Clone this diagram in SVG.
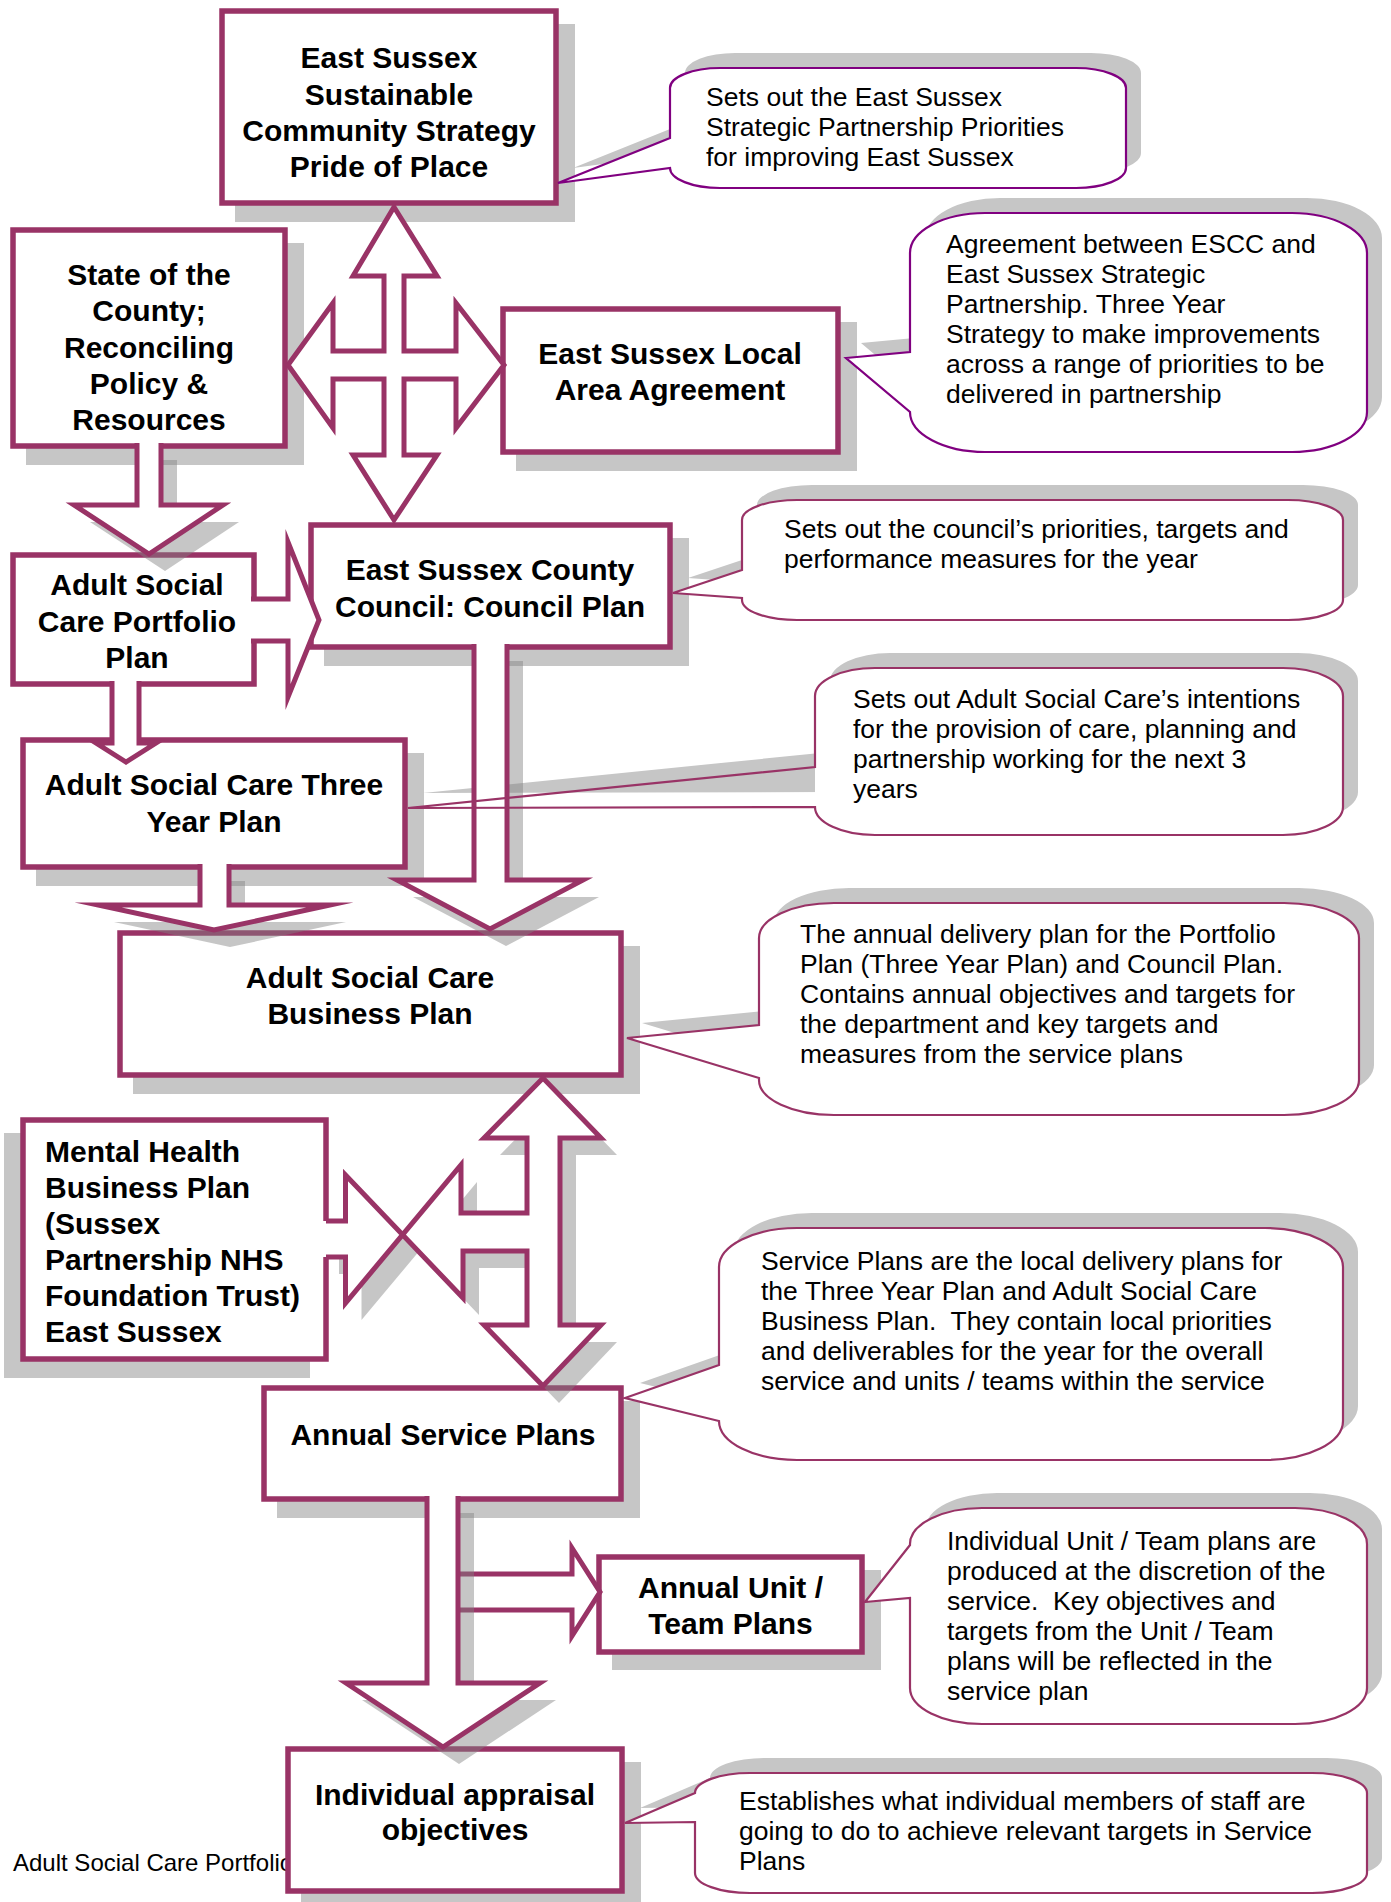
<svg xmlns="http://www.w3.org/2000/svg" width="1391" height="1902" viewBox="0 0 1391 1902">
<style>
.bsh{fill:#c6c6c6}
.ash{fill:#808080;fill-opacity:0.45}
.box{fill:#fff;stroke:#993366;stroke-width:5.5}
.bt{font-family:"Liberation Sans",Arial,sans-serif;font-size:30px;font-weight:bold;fill:#000;text-anchor:middle}
.bl{text-anchor:start}
.arf{fill:#fff;stroke:none}
.ars{fill:none;stroke:#993366;stroke-width:5;stroke-linejoin:miter;stroke-miterlimit:10}
.arc{fill:#fff;stroke:#993366;stroke-width:5;stroke-linejoin:miter;stroke-miterlimit:10}
.cf{fill:#fff;stroke:none}
.cs{fill:none;stroke:#993366;stroke-width:2.2}
.cp{fill:none;stroke:#800080;stroke-width:2.2}
.ct{font-family:"Liberation Sans",Arial,sans-serif;font-size:26.5px;fill:#000}
.ft{font-family:"Liberation Sans",Arial,sans-serif;font-size:24px;fill:#000}
</style>
<defs>
<path id="a1" d="M137,443 H161 V505 H223 L149,554 L74,505 H137 Z"/>
<path id="a4" d="M200,864 H229 V905 H330 L214,930 L98,905 H200 Z"/>
<path id="a5" d="M474,644 H507 V880 H583 L490,929 L397,880 H474 Z"/>
<path id="a6" d="M323,1257 H345.5 V1303 L461,1165 V1213 H527 V1138 H484 L543,1078 L601,1138 H560 V1325 H601 L543,1386 L484,1325 H527 V1251 H463 V1298 L345.5,1175 V1221 H323 Z"/>
<path id="a7" d="M427,1496 H458 V1683 H540 L443,1747 L346,1683 H427 Z"/>
<path id="c1" d="M720,68 H1076 A50,20 0 0 1 1126,88 V168 A50,20 0 0 1 1076,188 H720 A50,20 0 0 1 670,168 L558,183 L670,138 V88 A50,20 0 0 1 720,68 Z"/>
<path id="c2" d="M985,213 H1292 A75,40 0 0 1 1367,253 V412 A75,40 0 0 1 1292,452 H985 A75,40 0 0 1 910,412 L846,358 L910,352 V253 A75,40 0 0 1 985,213 Z"/>
<path id="c3" d="M797,500 H1288 A55,20 0 0 1 1343,520 V600 A55,20 0 0 1 1288,620 H797 A55,20 0 0 1 742,600 V598 L673,593 L742,570 V520 A55,20 0 0 1 797,500 Z"/>
<path id="c4" d="M875,668 H1283 A60,28 0 0 1 1343,696 V807 A60,28 0 0 1 1283,835 H875 A60,28 0 0 1 815,807 L408,808 L815,767 V696 A60,28 0 0 1 875,668 Z"/>
<path id="c4b" d="M875,668 H1283 A60,28 0 0 1 1343,696 V807 A60,28 0 0 1 1283,835 H875 A60,28 0 0 1 815,807 V696 A60,28 0 0 1 875,668 Z"/>
<path id="c5" d="M834,903 H1284 A75,35 0 0 1 1359,938 V1080 A75,35 0 0 1 1284,1115 H834 A75,35 0 0 1 759,1080 V1078 L627,1038 L759,1025 V938 A75,35 0 0 1 834,903 Z"/>
<path id="c6" d="M797,1228 H1265 A78,39 0 0 1 1343,1267 V1421 A78,39 0 0 1 1265,1460 H797 A78,39 0 0 1 719,1421 L625,1398 L719,1365 V1267 A78,39 0 0 1 797,1228 Z"/>
<path id="c7" d="M982,1508 H1295 A72,36 0 0 1 1367,1544 V1688 A72,36 0 0 1 1295,1724 H982 A72,36 0 0 1 910,1688 V1598 L865,1602 L910,1545 V1544 A72,36 0 0 1 982,1508 Z"/>
<path id="c8" d="M750,1773 H1312 A55,20 0 0 1 1367,1793 V1873 A55,20 0 0 1 1312,1893 H750 A55,20 0 0 1 695,1873 V1822 L625,1823 L695,1793 A55,20 0 0 1 750,1773 Z"/>
</defs>
<rect x="0" y="0" width="1391" height="1902" fill="#fff"/>

<g id="shadows">
<rect class="bsh" x="235" y="24" width="340" height="198"/>
<rect class="bsh" x="26" y="243" width="278" height="222"/>
<rect class="bsh" x="516" y="322" width="341" height="149"/>
<rect class="bsh" x="324" y="538" width="365" height="128"/>
<rect class="bsh" x="36" y="753" width="388" height="133"/>
<rect class="bsh" x="133" y="946" width="507" height="148"/>
<rect class="bsh" x="4" y="1133" width="306" height="245"/>
<rect class="bsh" x="277" y="1401" width="363" height="117"/>
<rect class="bsh" x="612" y="1570" width="269" height="100"/>
<rect class="bsh" x="301" y="1762" width="340" height="148"/>
<g class="bsh">
<use href="#c1" transform="translate(15,-15)"/>
<use href="#c2" transform="translate(15,-15)"/>
<use href="#c3" transform="translate(15,-15)"/>
<use href="#c4" transform="translate(15,-15)"/>
<use href="#c5" transform="translate(15,-15)"/>
<use href="#c6" transform="translate(15,-15)"/>
<use href="#c7" transform="translate(15,-15)"/>
<use href="#c8" transform="translate(15,-15)"/>
</g>
</g>

<text class="ft" x="13" y="1871">Adult Social Care Portfolio</text>

<g id="node-community-strategy">
<rect class="box" x="222" y="11" width="334" height="192"/>
<text class="bt"><tspan x="389" y="68">East Sussex</tspan><tspan x="389" y="104.5">Sustainable</tspan><tspan x="389" y="141">Community Strategy</tspan><tspan x="389" y="177">Pride of Place</tspan></text>
</g>
<g id="node-state-of-county">
<rect class="box" x="13" y="230" width="272" height="216"/>
<text class="bt"><tspan x="149" y="285">State of the</tspan><tspan x="149" y="321">County;</tspan><tspan x="149" y="358">Reconciling</tspan><tspan x="149" y="394">Policy &amp;</tspan><tspan x="149" y="430">Resources</tspan></text>
</g>
<g id="node-local-area-agreement">
<rect class="box" x="503" y="309" width="335" height="143"/>
<text class="bt"><tspan x="670" y="364">East Sussex Local</tspan><tspan x="670" y="400">Area Agreement</tspan></text>
</g>
<g id="node-council-plan">
<rect class="box" x="311" y="525" width="359" height="122"/>
<text class="bt"><tspan x="490" y="580">East Sussex County</tspan><tspan x="490" y="617">Council: Council Plan</tspan></text>
</g>
<g id="node-portfolio-plan">
<rect class="box" x="13" y="555" width="241" height="129"/>
<text class="bt"><tspan x="137" y="595">Adult Social</tspan><tspan x="137" y="632">Care Portfolio</tspan><tspan x="137" y="668">Plan</tspan></text>
</g>
<g id="node-three-year-plan">
<rect class="box" x="23" y="740" width="382" height="127"/>
<text class="bt"><tspan x="214" y="795">Adult Social Care Three</tspan><tspan x="214" y="832">Year Plan</tspan></text>
</g>
<g id="node-business-plan">
<rect class="box" x="120" y="933" width="501" height="142"/>
<text class="bt"><tspan x="370" y="988">Adult Social Care</tspan><tspan x="370" y="1024">Business Plan</tspan></text>
</g>
<g id="node-mental-health">
<rect class="box" x="23" y="1120" width="303" height="239"/>
<text class="bt bl"><tspan x="45" y="1162">Mental Health</tspan><tspan x="45" y="1198">Business Plan</tspan><tspan x="45" y="1234">(Sussex</tspan><tspan x="45" y="1270">Partnership NHS</tspan><tspan x="45" y="1306">Foundation Trust)</tspan><tspan x="45" y="1342">East Sussex</tspan></text>
</g>
<g id="node-service-plans">
<rect class="box" x="264" y="1388" width="357" height="111"/>
<text class="bt" x="443" y="1445">Annual Service Plans</text>
</g>
<g id="node-unit-team-plans">
<rect class="box" x="599" y="1557" width="263" height="95"/>
<text class="bt"><tspan x="730.5" y="1598">Annual Unit /</tspan><tspan x="730.5" y="1634">Team Plans</tspan></text>
</g>
<g id="node-appraisal">
<rect class="box" x="288" y="1749" width="334" height="142"/>
<text class="bt"><tspan x="455" y="1805">Individual appraisal</tspan><tspan x="455" y="1840">objectives</tspan></text>
</g>

<g id="connectors">
<path class="arc" d="M394,207 L437,276 H404 V351 H456 V303 L504,365 L456,428 V379 H404 V455 H437 L394,520 L353,455 H384 V379 H333 V428 L288,365 L333,303 V351 H384 V276 H353 Z"/>
<path class="arf" d="M251,599 H288 V542 L319,620 L288,697 V641 H251 Z"/>
<path class="ars" d="M251,599 H288 V542 L319,620 L288,697 V641 H251"/>
<path class="arf" d="M112,681 H139 V743 H156 L126,762 L96,743 H112 Z"/>
<path class="ars" d="M112,681 V743 H96 L126,762 L156,743 H139 V681"/>
<path class="arf" d="M474,1574 H572 V1548 L600,1592 L572,1636 V1610 H474 Z"/>
<path class="ars" d="M458,1574 H572 V1548 L600,1592 L572,1636 V1610 H458"/>
<use href="#a1" class="ash" transform="translate(16,17)"/>
<use href="#a1" class="arf"/>
<path class="ars" d="M137,443 V505 H74 L149,554 L223,505 H161 V443"/>
<use href="#a4" class="ash" transform="translate(16,17)"/>
<use href="#a4" class="arf"/>
<path class="ars" d="M200,864 V905 H98 L214,930 L330,905 H229 V864"/>
<use href="#a5" class="ash" transform="translate(16,17)"/>
<use href="#a5" class="arf"/>
<path class="ars" d="M474,644 V880 H397 L490,929 L583,880 H507 V644"/>
<use href="#a6" class="ash" transform="translate(16,17)"/>
<use href="#a6" class="arf"/>
<path class="ars" d="M326,1257 H345.5 V1303 L461,1165 V1213 H527 V1138 H484 L543,1078 L601,1138 H560 V1325 H601 L543,1386 L484,1325 H527 V1251 H463 V1298 L345.5,1175 V1221 H326"/>
<use href="#a7" class="ash" transform="translate(16,17)"/>
<use href="#a7" class="arf"/>
<path class="ars" d="M427,1496 V1683 H346 L443,1747 L540,1683 H458 V1496"/>
</g>

<g id="callout-community-strategy">
<use href="#c1" class="cf"/><use href="#c1" class="cp"/>
<text class="ct"><tspan x="706" y="106">Sets out the East Sussex</tspan><tspan x="706" y="136">Strategic Partnership Priorities</tspan><tspan x="706" y="166">for improving East Sussex</tspan></text>
</g>
<g id="callout-local-area-agreement">
<use href="#c2" class="cf"/><use href="#c2" class="cp"/>
<text class="ct"><tspan x="946" y="253">Agreement between ESCC and</tspan><tspan x="946" y="283">East Sussex Strategic</tspan><tspan x="946" y="313">Partnership. Three Year</tspan><tspan x="946" y="343">Strategy to make improvements</tspan><tspan x="946" y="373">across a range of priorities to be</tspan><tspan x="946" y="403">delivered in partnership</tspan></text>
</g>
<g id="callout-council-plan">
<use href="#c3" class="cf"/><use href="#c3" class="cs"/>
<text class="ct"><tspan x="784" y="538">Sets out the council’s priorities, targets and</tspan><tspan x="784" y="568">performance measures for the year</tspan></text>
</g>
<g id="callout-three-year-plan">
<use href="#c4b" class="cf"/><use href="#c4" class="cs"/>
<text class="ct"><tspan x="853" y="708">Sets out Adult Social Care’s intentions</tspan><tspan x="853" y="738">for the provision of care, planning and</tspan><tspan x="853" y="768">partnership working for the next 3</tspan><tspan x="853" y="798">years</tspan></text>
</g>
<g id="callout-business-plan">
<use href="#c5" class="cf"/><use href="#c5" class="cs"/>
<text class="ct"><tspan x="800" y="943">The annual delivery plan for the Portfolio</tspan><tspan x="800" y="973">Plan (Three Year Plan) and Council Plan.</tspan><tspan x="800" y="1003">Contains annual objectives and targets for</tspan><tspan x="800" y="1033">the department and key targets and</tspan><tspan x="800" y="1063">measures from the service plans</tspan></text>
</g>
<g id="callout-service-plans">
<use href="#c6" class="cf"/><use href="#c6" class="cs"/>
<text class="ct" xml:space="preserve"><tspan x="761" y="1270">Service Plans are the local delivery plans for</tspan><tspan x="761" y="1300">the Three Year Plan and Adult Social Care</tspan><tspan x="761" y="1330">Business Plan.  They contain local priorities</tspan><tspan x="761" y="1360">and deliverables for the year for the overall</tspan><tspan x="761" y="1390">service and units / teams within the service</tspan></text>
</g>
<g id="callout-unit-team-plans">
<use href="#c7" class="cf"/><use href="#c7" class="cs"/>
<text class="ct" xml:space="preserve"><tspan x="947" y="1550">Individual Unit / Team plans are</tspan><tspan x="947" y="1580">produced at the discretion of the</tspan><tspan x="947" y="1610">service.  Key objectives and</tspan><tspan x="947" y="1640">targets from the Unit / Team</tspan><tspan x="947" y="1670">plans will be reflected in the</tspan><tspan x="947" y="1700">service plan</tspan></text>
</g>
<g id="callout-appraisal">
<use href="#c8" class="cf"/><use href="#c8" class="cs"/>
<text class="ct"><tspan x="739" y="1810">Establishes what individual members of staff are</tspan><tspan x="739" y="1840">going to do to achieve relevant targets in Service</tspan><tspan x="739" y="1870">Plans</tspan></text>
</g>
</svg>
